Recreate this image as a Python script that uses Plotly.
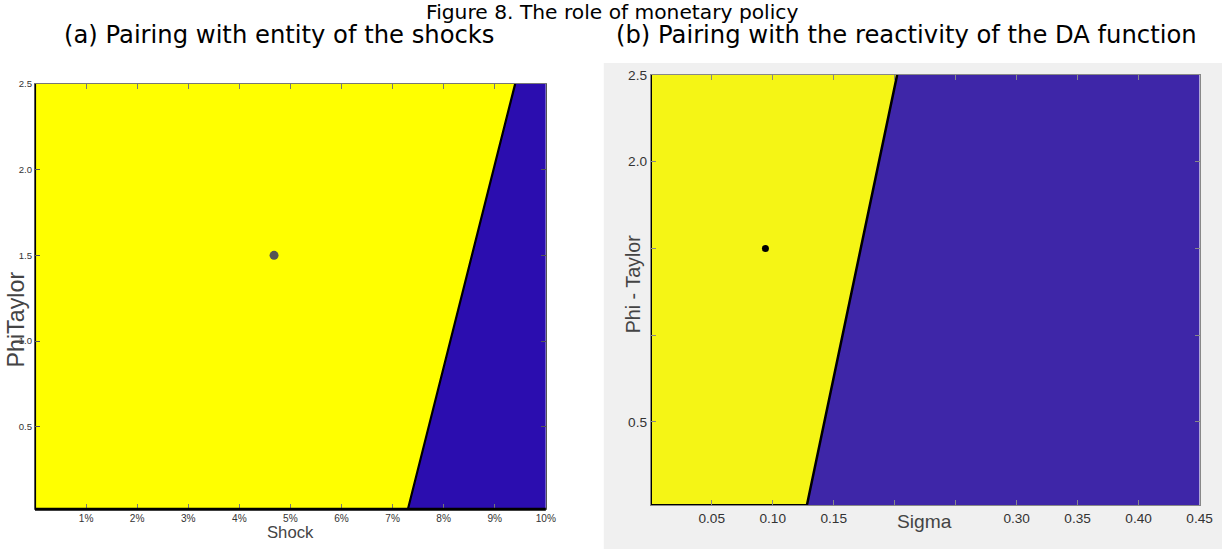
import plotly.graph_objects as go

# ---------------- data ----------------
# Panel (a): Shock (%) vs PhiTaylor
shock_range = [0.0, 10.0]
phi_range_a = [0.02, 2.5]
shock_boundary = [7.3, 9.4]          # boundary x at bottom / top
phi_boundary_a = [0.02, 2.5]
shock_ticks = [1, 2, 3, 4, 5, 6, 7, 8, 9, 10]
shock_ticktext = ["1%", "2%", "3%", "4%", "5%", "6%", "7%", "8%", "9%", "10%"]
phi_ticks_a = [0.5, 1.0, 1.5, 2.0, 2.5]
phi_ticktext_a = ["0.5", "1.0", "1.5", "2.0", "2.5"]
point_a = (4.68, 1.5)

# Panel (b): Sigma vs Phi - Taylor
sigma_range = [0.0, 0.45]
phi_range_b = [0.02, 2.5]
sigma_boundary = [0.128, 0.202]
phi_boundary_b = [0.02, 2.5]
sigma_ticks = [0.05, 0.10, 0.15, 0.20, 0.25, 0.30, 0.35, 0.40, 0.45]
sigma_ticktext = ["0.05", "0.10", "0.15", "", "", "0.30", "0.35", "0.40", "0.45"]
phi_ticks_b = [0.5, 1.0, 1.5, 2.0, 2.5]
phi_ticktext_b = ["0.5", "", "", "2.0", "2.5"]
point_b = (0.094, 1.5)

YEL_A, BLUE_A = "#FFFF00", "#2B0DAF"
YEL_B, BLUE_B = "#F5F515", "#3E26A8"

# ---------------- layout helpers ----------------
W, H = 1236, 555
S, OY = 0.989, 7.0        # observed render scale / vertical offset


def fx(x):
    return x / (S * W)


def fy(y):
    return 1 - (y - OY) / (S * H)


def fs(v):
    return v / S


fig = go.Figure()


def add_panel(xr, yr, bx, by, yel, blue, xa, ya, contour_w):
    fig.add_trace(go.Scatter(
        x=[xr[0], bx[0], bx[1], xr[0], xr[0]],
        y=[yr[0], by[0], by[1], yr[1], yr[0]],
        fill="toself", fillcolor=yel, line=dict(width=0), mode="lines",
        hoverinfo="skip", showlegend=False, xaxis=xa, yaxis=ya))
    fig.add_trace(go.Scatter(
        x=[bx[0], xr[1], xr[1], bx[1], bx[0]],
        y=[by[0], yr[0], yr[1], by[1], by[0]],
        fill="toself", fillcolor=blue, line=dict(width=0), mode="lines",
        hoverinfo="skip", showlegend=False, xaxis=xa, yaxis=ya))
    # contour of the yellow region (left edge, bottom, boundary)
    fig.add_trace(go.Scatter(
        x=[xr[0], xr[0], bx[0], bx[1]], y=[yr[1], yr[0], by[0], by[1]],
        mode="lines", line=dict(color="black", width=contour_w),
        hoverinfo="skip", showlegend=False, xaxis=xa, yaxis=ya))


add_panel(shock_range, phi_range_a, shock_boundary, phi_boundary_a,
          YEL_A, BLUE_A, "x", "y", 2.2)
add_panel(sigma_range, phi_range_b, sigma_boundary, phi_boundary_b,
          YEL_B, BLUE_B, "x2", "y2", 2.5)

fig.add_trace(go.Scatter(x=[point_a[0]], y=[point_a[1]], mode="markers",
                         marker=dict(color="#555555", size=9),
                         showlegend=False, xaxis="x", yaxis="y"))
fig.add_trace(go.Scatter(x=[point_b[0]], y=[point_b[1]], mode="markers",
                         marker=dict(color="black", size=7),
                         showlegend=False, xaxis="x2", yaxis="y2"))


def axis_common(color, tsize, tcol):
    return dict(ticks="inside", ticklen=5, tickcolor=color, tickwidth=1,
                showgrid=False, zeroline=False, showline=True,
                linecolor=color, linewidth=1, mirror="ticks",
                tickfont=dict(family="Liberation Sans", size=fs(tsize), color=tcol))


ann_font = dict(family="Liberation Sans", color="#444")
annotations = [
    dict(text="Figure 8. The role of monetary policy", x=fx(612), y=fy(12),
         font=dict(family="DejaVu Sans", size=fs(20), color="black")),
    dict(text="(a) Pairing with entity of the shocks", x=fx(280), y=fy(35),
         font=dict(family="DejaVu Sans", size=fs(24), color="black")),
    dict(text="(b) Pairing with the reactivity of the DA function", x=fx(907), y=fy(35),
         font=dict(family="DejaVu Sans", size=fs(24), color="black")),
    dict(text="Shock", x=fx(291), y=fy(533), font=dict(size=fs(16.5), **ann_font)),
    dict(text="PhiTaylor", x=fx(16), y=fy(320), textangle=-90,
         font=dict(size=fs(23), **ann_font)),
    dict(text="Sigma", x=fx(925), y=fy(522), font=dict(size=fs(19), **ann_font)),
    dict(text="Phi - Taylor", x=fx(633), y=fy(284), textangle=-90,
         font=dict(size=fs(19.5), **ann_font)),
]
for a in annotations:
    a.update(xref="paper", yref="paper", xanchor="center", yanchor="middle",
             showarrow=False)

fig.update_layout(
    width=W, height=H, margin=dict(l=0, r=0, t=0, b=0),
    paper_bgcolor="white", plot_bgcolor="white",
    font=dict(family="DejaVu Sans", color="#222"),
    shapes=[
        dict(type="rect", xref="paper", yref="paper",
             x0=fx(604), x1=1, y0=0, y1=fy(63),
             fillcolor="#F0F0F0", line=dict(width=0), layer="below"),
        dict(type="line", xref="x domain", yref="y domain", x0=0, x1=1, y0=0, y1=0,
             line=dict(color="black", width=3)),
    ],
    xaxis=dict(domain=[fx(35), fx(546)], range=shock_range, tickvals=shock_ticks,
               ticktext=shock_ticktext, **axis_common("#777", 10, "#333")),
    yaxis=dict(domain=[fy(510), fy(84)], range=phi_range_a, tickvals=phi_ticks_a,
               ticktext=phi_ticktext_a, **axis_common("#555", 9.5, "#333")),
    xaxis2=dict(domain=[fx(651), fx(1200)], range=sigma_range, tickvals=sigma_ticks,
                ticktext=sigma_ticktext, anchor="y2",
                **axis_common("#888", 13.5, "#333")),
    yaxis2=dict(domain=[fy(506), fy(75)], range=phi_range_b, tickvals=phi_ticks_b,
                ticktext=phi_ticktext_b, anchor="x2",
                **axis_common("#888", 13.5, "#333")),
    annotations=annotations,
)

fig.write_html(
    "out.html",
    config={"displayModeBar": False},
    post_script="document.body.style.margin='0';document.body.style.overflow='hidden';",
)
